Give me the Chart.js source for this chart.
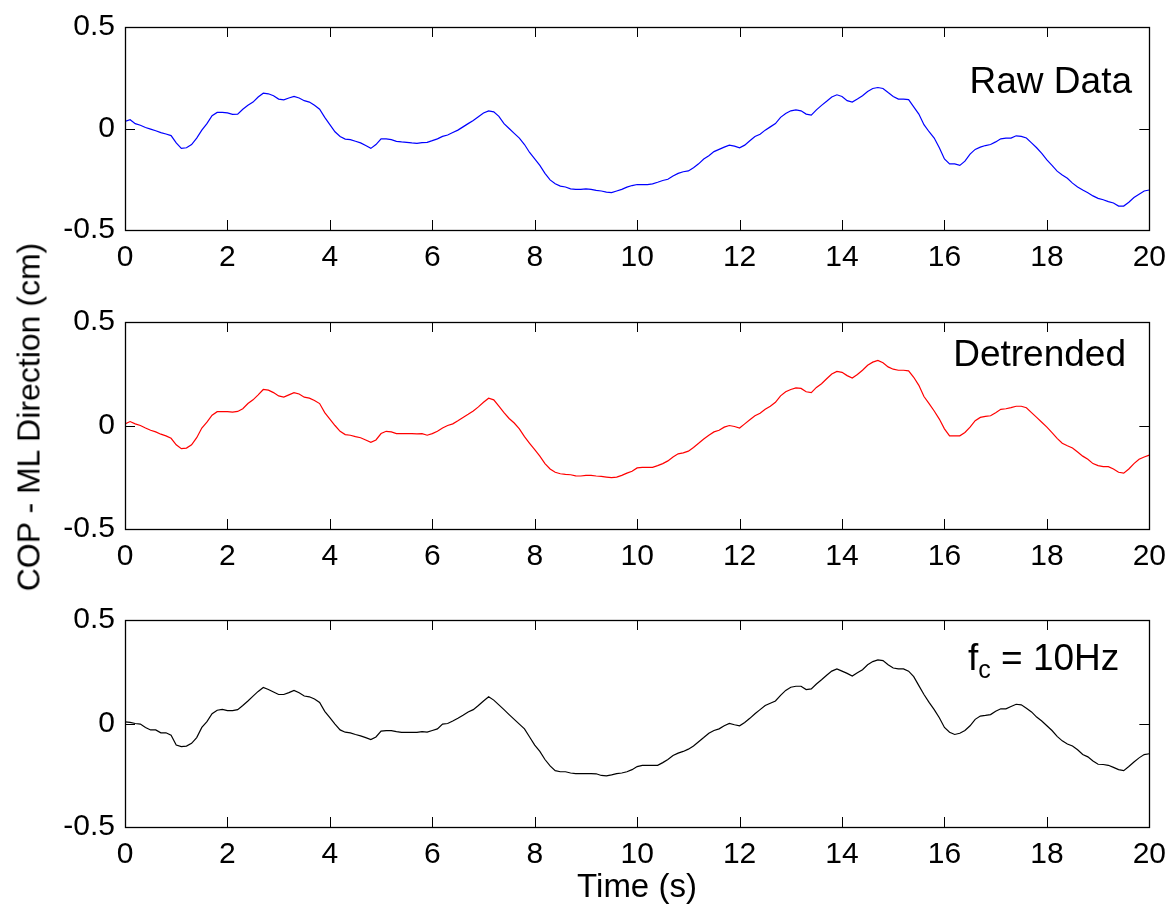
<!DOCTYPE html>
<html>
<head>
<meta charset="utf-8">
<script src="https://cdn.jsdelivr.net/npm/chart.js@4.4.1/dist/chart.umd.min.js"></script>
<style>
  html, body { margin:0; padding:0; background:#fff; }
  #wrap { position:relative; width:1176px; height:915px; overflow:hidden; background:#fff; }
  canvas { position:absolute; left:0; }
  .lab { position:absolute; font-family:"Liberation Sans", Arial, sans-serif; font-size:32px; color:#000; white-space:nowrap; }
  #ylab { left:29px; top:417px; transform:translate(-50%,-50%) rotate(-90deg); }
  #xlab { left:637px; top:886px; transform:translate(-50%,-50%); font-size:33px; }
</style>
</head>
<body>
<div id="wrap">
  <canvas id="c1"></canvas>
  <canvas id="c2"></canvas>
  <canvas id="c3"></canvas>
  <div class="lab" id="ylab">COP - ML Direction (cm)</div>
  <div class="lab" id="xlab">Time (s)</div>
</div>
<script>
// ---- data ----
const timeS = [0.0,0.1,0.2,0.3,0.4,0.5,0.6,0.7,0.8,0.9,
1.0,1.1,1.2,1.3,1.4,1.5,1.6,1.7,1.8,1.9,
2.0,2.1,2.2,2.3,2.4,2.5,2.6,2.7,2.8,2.9,
3.0,3.1,3.2,3.3,3.4,3.5,3.6,3.7,3.8,3.9,
4.0,4.1,4.2,4.3,4.4,4.5,4.6,4.7,4.8,4.9,
5.0,5.1,5.2,5.3,5.4,5.5,5.6,5.7,5.8,5.9,
6.0,6.1,6.2,6.3,6.4,6.5,6.6,6.7,6.8,6.9,
7.0,7.1,7.2,7.3,7.4,7.5,7.6,7.7,7.8,7.9,
8.0,8.1,8.2,8.3,8.4,8.5,8.6,8.7,8.8,8.9,
9.0,9.1,9.2,9.3,9.4,9.5,9.6,9.7,9.8,9.9,
10.0,10.1,10.2,10.3,10.4,10.5,10.6,10.7,10.8,10.9,
11.0,11.1,11.2,11.3,11.4,11.5,11.6,11.7,11.8,11.9,
12.0,12.1,12.2,12.3,12.4,12.5,12.6,12.7,12.8,12.9,
13.0,13.1,13.2,13.3,13.4,13.5,13.6,13.7,13.8,13.9,
14.0,14.1,14.2,14.3,14.4,14.5,14.6,14.7,14.8,14.9,
15.0,15.1,15.2,15.3,15.4,15.5,15.6,15.7,15.8,15.9,
16.0,16.1,16.2,16.3,16.4,16.5,16.6,16.7,16.8,16.9,
17.0,17.1,17.2,17.3,17.4,17.5,17.6,17.7,17.8,17.9,
18.0,18.1,18.2,18.3,18.4,18.5,18.6,18.7,18.8,18.9,
19.0,19.1,19.2,19.3,19.4,19.5,19.6,19.7,19.8,19.9,
20.0];

const rawData = [0.035,0.043,0.024,0.016,0.005,-0.003,-0.011,-0.020,-0.027,-0.035,
-0.071,-0.098,-0.095,-0.079,-0.047,-0.008,0.024,0.063,0.079,0.079,
0.077,0.070,0.071,0.095,0.114,0.130,0.155,0.174,0.171,0.161,
0.145,0.141,0.150,0.158,0.150,0.137,0.130,0.114,0.095,0.055,
0.019,-0.016,-0.039,-0.052,-0.055,-0.063,-0.071,-0.084,-0.098,-0.079,
-0.051,-0.051,-0.055,-0.063,-0.066,-0.068,-0.071,-0.073,-0.070,-0.068,
-0.060,-0.051,-0.039,-0.032,-0.020,-0.008,0.008,0.024,0.039,0.058,
0.076,0.087,0.082,0.060,0.024,0.000,-0.024,-0.047,-0.079,-0.118,
-0.150,-0.182,-0.221,-0.253,-0.272,-0.284,-0.288,-0.297,-0.300,-0.300,
-0.297,-0.300,-0.305,-0.308,-0.313,-0.316,-0.308,-0.300,-0.289,-0.281,
-0.276,-0.276,-0.276,-0.273,-0.265,-0.256,-0.250,-0.234,-0.221,-0.213,
-0.209,-0.193,-0.174,-0.150,-0.134,-0.114,-0.103,-0.092,-0.082,-0.087,
-0.095,-0.082,-0.060,-0.039,-0.028,-0.008,0.008,0.024,0.055,0.074,
0.087,0.092,0.087,0.071,0.066,0.092,0.114,0.134,0.155,0.166,
0.158,0.137,0.130,0.145,0.161,0.182,0.197,0.202,0.197,0.177,
0.158,0.145,0.145,0.142,0.107,0.071,0.019,-0.016,-0.047,-0.095,
-0.150,-0.174,-0.174,-0.182,-0.161,-0.126,-0.103,-0.092,-0.084,-0.079,
-0.066,-0.051,-0.047,-0.047,-0.036,-0.039,-0.047,-0.071,-0.095,-0.123,
-0.155,-0.182,-0.210,-0.229,-0.245,-0.269,-0.288,-0.303,-0.316,-0.332,
-0.344,-0.351,-0.360,-0.367,-0.382,-0.382,-0.363,-0.340,-0.324,-0.308,
-0.303];

const detrendedData = [0.008,0.019,0.008,0.000,-0.012,-0.023,-0.031,-0.042,-0.050,-0.062,
-0.093,-0.112,-0.109,-0.093,-0.059,-0.012,0.016,0.050,0.067,0.067,
0.067,0.065,0.068,0.081,0.106,0.124,0.148,0.174,0.171,0.159,
0.143,0.137,0.148,0.159,0.152,0.137,0.132,0.121,0.106,0.062,
0.031,0.000,-0.028,-0.044,-0.047,-0.054,-0.059,-0.070,-0.081,-0.070,
-0.039,-0.028,-0.031,-0.039,-0.039,-0.039,-0.039,-0.040,-0.039,-0.047,
-0.039,-0.028,-0.012,0.000,0.008,0.023,0.039,0.054,0.070,0.090,
0.112,0.132,0.124,0.093,0.062,0.034,0.012,-0.016,-0.054,-0.086,
-0.117,-0.148,-0.184,-0.210,-0.226,-0.233,-0.236,-0.238,-0.243,-0.244,
-0.241,-0.241,-0.244,-0.246,-0.249,-0.252,-0.249,-0.241,-0.230,-0.221,
-0.205,-0.202,-0.202,-0.202,-0.194,-0.184,-0.171,-0.152,-0.137,-0.132,
-0.124,-0.106,-0.086,-0.065,-0.047,-0.031,-0.023,-0.008,0.000,-0.005,
-0.012,0.008,0.028,0.047,0.059,0.078,0.093,0.112,0.143,0.163,
0.174,0.182,0.179,0.163,0.159,0.184,0.202,0.226,0.249,0.261,
0.257,0.241,0.229,0.246,0.267,0.291,0.306,0.314,0.303,0.283,
0.272,0.267,0.267,0.264,0.233,0.194,0.140,0.106,0.070,0.031,
-0.016,-0.050,-0.050,-0.050,-0.034,-0.008,0.023,0.039,0.044,0.047,
0.062,0.078,0.081,0.086,0.093,0.093,0.086,0.062,0.039,0.016,
-0.008,-0.034,-0.062,-0.086,-0.098,-0.109,-0.128,-0.148,-0.163,-0.184,
-0.194,-0.199,-0.199,-0.210,-0.226,-0.230,-0.210,-0.184,-0.163,-0.152,
-0.143];

const filteredData = [0.008,0.005,0.000,-0.003,-0.019,-0.031,-0.031,-0.045,-0.045,-0.057,
-0.104,-0.112,-0.109,-0.096,-0.068,-0.019,0.009,0.047,0.064,0.068,
0.062,0.062,0.067,0.087,0.109,0.132,0.155,0.174,0.164,0.152,
0.140,0.140,0.149,0.160,0.149,0.133,0.129,0.118,0.102,0.059,
0.028,-0.003,-0.031,-0.042,-0.045,-0.053,-0.060,-0.068,-0.078,-0.065,
-0.037,-0.034,-0.034,-0.039,-0.043,-0.043,-0.043,-0.043,-0.039,-0.042,
-0.034,-0.026,-0.003,0.000,0.012,0.025,0.040,0.056,0.067,0.087,
0.109,0.129,0.113,0.090,0.067,0.043,0.020,-0.003,-0.026,-0.065,
-0.104,-0.135,-0.174,-0.205,-0.228,-0.233,-0.233,-0.239,-0.242,-0.242,
-0.242,-0.242,-0.243,-0.251,-0.253,-0.248,-0.242,-0.239,-0.233,-0.223,
-0.208,-0.202,-0.202,-0.202,-0.202,-0.189,-0.174,-0.155,-0.143,-0.135,
-0.124,-0.109,-0.088,-0.068,-0.047,-0.034,-0.026,-0.011,0.000,-0.006,
-0.011,0.005,0.025,0.047,0.067,0.087,0.098,0.109,0.136,0.160,
0.175,0.180,0.180,0.164,0.167,0.191,0.211,0.233,0.253,0.264,
0.253,0.242,0.229,0.245,0.260,0.284,0.299,0.307,0.304,0.284,
0.268,0.264,0.264,0.253,0.226,0.183,0.140,0.102,0.067,0.028,
-0.019,-0.042,-0.053,-0.047,-0.034,-0.011,0.020,0.036,0.039,0.043,
0.059,0.071,0.071,0.082,0.093,0.090,0.074,0.056,0.031,0.012,
-0.011,-0.034,-0.062,-0.084,-0.099,-0.109,-0.127,-0.150,-0.161,-0.181,
-0.197,-0.198,-0.202,-0.212,-0.223,-0.228,-0.208,-0.186,-0.166,-0.150,
-0.146];

const xTickValues = [0,2,4,6,8,10,12,14,16,18,20];
const yTickValues = [-0.5,0,0.5];
const yTickLabels = ['-0.5','0','0.5'];
const panelTitles = ['Raw Data','Detrended','f_c = 10Hz'];

// ---- layout / style ----
const FONT = '"Liberation Sans", Arial, sans-serif';
const panels = [
  { id:'c1', top:19,  bottom:230, data:rawData,       color:'#0000ff', title:panelTitles[0], tRight:1132, tBase:93 },
  { id:'c2', top:314, bottom:529, data:detrendedData, color:'#ff0000', title:panelTitles[1], tRight:1126, tBase:366 },
  { id:'c3', top:612, bottom:827, data:filteredData,  color:'#000000', title:panelTitles[2], tLeft:968,  tBase:670 }
];
const PLOT_LEFT = 125, PLOT_RIGHT = 1150, W = 1176;
const PAD_TOP = 20, XAXIS_H = 50;

function makeChart(p) {
  const cv = document.getElementById(p.id);
  const H = (p.bottom - p.top) + PAD_TOP + XAXIS_H;
  const canvasTop = p.top - PAD_TOP;
  cv.width = W; cv.height = H;
  cv.style.width = W + 'px'; cv.style.height = H + 'px';
  cv.style.top = canvasTop + 'px';

  const boxPlugin = {
    id: 'matlabBox',
    afterDraw(chart) {
      const ctx = chart.ctx, a = chart.chartArea;
      const xs = chart.scales.x, ys = chart.scales.y;
      ctx.save();
      ctx.strokeStyle = '#000';
      ctx.lineWidth = 1.3;
      ctx.strokeRect(Math.round(a.left) + 0.5, Math.round(a.top) + 0.5,
                     Math.round(a.right - a.left), Math.round(a.bottom - a.top));
      const TL = 10;
      ctx.lineWidth = 1;
      ctx.beginPath();
      xTickValues.forEach(v => {
        const x = Math.round(xs.getPixelForValue(v)) + 0.5;
        ctx.moveTo(x, a.bottom); ctx.lineTo(x, a.bottom - TL);
        ctx.moveTo(x, a.top);    ctx.lineTo(x, a.top + TL);
      });
      yTickValues.forEach(v => {
        const y = Math.round(ys.getPixelForValue(v)) + 0.5;
        ctx.moveTo(a.left, y);  ctx.lineTo(a.left + TL, y);
        ctx.moveTo(a.right, y); ctx.lineTo(a.right - TL, y);
      });
      ctx.stroke();

      // panel annotation
      ctx.fillStyle = '#000';
      ctx.textBaseline = 'alphabetic';
      const base = p.tBase - canvasTop;
      if (p.title.indexOf('_') >= 0) {
        const parts = p.title.split('_'); // "f", "c = 10Hz"
        const sub = parts[1].charAt(0), rest = parts[1].slice(1);
        let x = p.tLeft;
        ctx.textAlign = 'left';
        ctx.font = '37px ' + FONT;
        ctx.fillText(parts[0], x, base);
        x += ctx.measureText(parts[0]).width;
        ctx.font = '25px ' + FONT;
        ctx.fillText(sub, x, base + 8);
        x += ctx.measureText(sub).width;
        ctx.font = '37px ' + FONT;
        ctx.fillText(rest, x, base);
      } else {
        ctx.textAlign = 'right';
        ctx.font = '37px ' + FONT;
        ctx.fillText(p.title, p.tRight, base);
      }
      ctx.restore();
    }
  };

  return new Chart(cv, {
    type: 'line',
    data: {
      datasets: [{
        data: timeS.map((t, i) => ({ x: t, y: p.data[i] })),
        borderColor: p.color,
        borderWidth: 1.2,
        pointRadius: 0,
        tension: 0,
        fill: false
      }]
    },
    options: {
      responsive: false,
      animation: false,
      devicePixelRatio: 1,
      layout: { padding: { left: 0, right: W - PLOT_RIGHT, top: PAD_TOP, bottom: 0 } },
      plugins: { legend: { display: false }, tooltip: { enabled: false } },
      scales: {
        x: {
          type: 'linear', min: 0, max: 20,
          afterBuildTicks: s => { s.ticks = xTickValues.map(v => ({ value: v })); },
          afterFit: s => { s.height = XAXIS_H; },
          grid: { display: false, drawTicks: false },
          border: { display: false },
          ticks: { color: '#000', font: { family: FONT, size: 30 }, padding: 10,
                   maxRotation: 0, autoSkip: false, callback: v => String(v) }
        },
        y: {
          type: 'linear', min: -0.5, max: 0.5,
          afterBuildTicks: s => { s.ticks = yTickValues.map(v => ({ value: v })); },
          afterFit: s => { s.width = PLOT_LEFT; },
          grid: { display: false, drawTicks: false },
          border: { display: false },
          ticks: { color: '#000', font: { family: FONT, size: 30 }, padding: 10,
                   callback: v => yTickLabels[yTickValues.indexOf(v)] }
        }
      }
    },
    plugins: [boxPlugin]
  });
}

panels.forEach(makeChart);
</script>
</body>
</html>
